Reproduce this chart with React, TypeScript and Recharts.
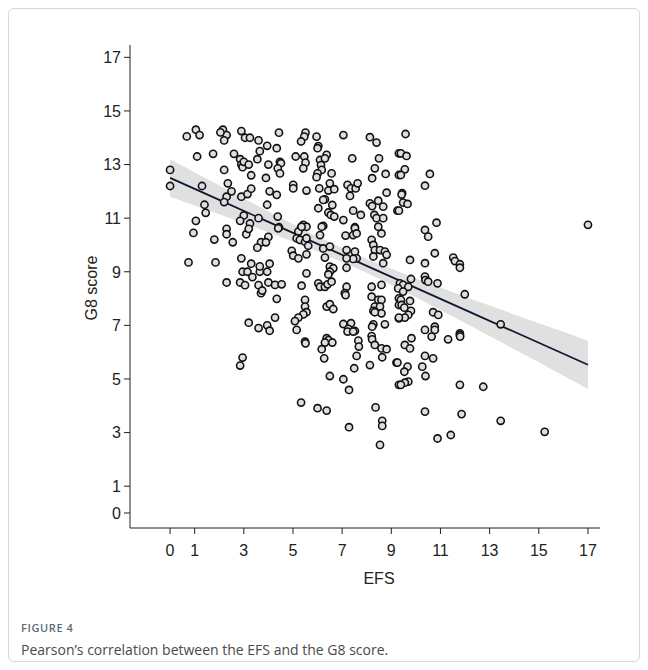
import { Area, ComposedChart, Label, Line, Scatter, XAxis, YAxis } from "recharts"

// EFS (x) vs G8 score (y)
const leftPoints: [number, number][] = [
  [0.0, 12.8], [0.0, 12.2], [0.75, 9.35], [0.68, 14.05],
  [1.05, 14.3], [1.2, 14.1], [1.1, 13.3], [1.3, 12.2], [1.4, 11.5], [1.05, 10.9], [0.95, 10.45],
  [1.45, 11.2], [1.8, 10.2], [1.85, 9.35], [1.75, 13.4],
  [2.15, 14.3], [2.3, 14.1], [2.2, 13.9], [2.2, 12.8], [2.35, 12.3], [2.3, 11.8], [2.2, 11.6],
  [2.3, 10.6], [2.3, 10.4], [2.3, 8.6], [2.05, 14.2], [2.5, 12.0], [2.55, 10.1], [2.6, 13.4],
  [2.85, 13.2], [2.9, 13.0], [2.95, 12.9], [3.0, 13.1], [2.9, 14.25], [3.05, 14.0], [2.9, 11.8],
  [3.0, 11.1], [2.85, 10.9], [3.1, 10.4], [2.9, 9.5], [2.95, 9.0], [2.85, 8.6], [2.85, 5.5],
  [2.95, 5.8], [3.05, 8.5],
  [3.25, 14.0], [3.2, 13.0], [3.3, 12.6], [3.15, 11.9], [3.3, 12.1], [3.25, 10.8], [3.2, 10.6],
  [3.3, 9.3], [3.15, 9.0], [3.2, 7.1], [3.35, 8.8],
  [3.6, 13.9], [3.65, 13.5], [3.55, 13.2], [3.6, 11.0], [3.7, 10.1], [3.55, 9.9], [3.65, 9.0],
  [3.6, 8.5], [3.7, 8.2], [3.6, 6.9], [3.75, 8.3], [3.65, 9.2],
  [3.95, 13.7], [4.0, 13.0], [3.9, 12.5], [4.05, 12.0], [3.95, 11.5], [4.0, 10.3], [3.9, 10.1],
  [4.05, 9.3], [3.95, 9.0], [4.0, 8.6], [3.95, 7.0], [4.05, 6.8],
]

const midUpperPoints: [number, number][] = [
  [4.43, 14.19], [4.34, 13.61], [4.47, 13.1], [4.51, 13.05], [4.38, 12.86], [4.47, 12.67],
  [4.34, 11.87], [4.38, 11.06], [4.43, 10.66], [5.51, 14.19], [5.46, 14.04], [5.33, 13.86],
  [5.96, 14.04], [6.03, 13.69], [6.0, 13.61], [5.11, 13.3], [5.46, 13.3], [5.51, 13.07],
  [5.42, 12.86], [6.1, 13.17], [6.37, 13.36], [6.3, 13.23], [6.14, 12.98], [6.17, 12.8],
  [6.0, 12.67], [5.96, 12.53], [6.57, 12.67], [7.05, 14.1], [7.41, 13.23], [8.13, 14.02],
  [8.4, 13.82], [8.5, 13.23], [8.33, 12.86], [8.77, 12.65], [8.22, 12.49], [5.01, 12.24],
  [5.01, 12.11], [5.55, 12.03], [6.07, 12.11], [6.5, 12.3], [6.44, 12.03], [6.68, 12.08],
  [7.22, 12.24], [7.36, 12.11], [7.32, 11.83], [7.55, 12.11], [7.63, 12.3], [6.3, 11.7],
  [6.23, 11.68], [6.03, 11.37], [6.6, 11.49], [6.44, 11.21], [6.54, 11.12], [6.68, 11.06],
  [7.05, 10.93], [7.45, 11.28], [7.76, 11.12], [8.13, 11.55], [8.22, 11.45], [8.47, 11.65],
  [8.67, 11.43], [8.31, 11.12], [8.4, 11.0], [8.67, 11.0], [8.81, 11.95], [9.31, 13.42],
  [9.31, 12.61], [9.25, 11.28], [5.42, 10.75], [5.55, 10.68], [5.33, 10.66], [6.23, 10.71],
  [7.52, 10.66],
]

const midLowerPoints: [number, number][] = [
  [4.4, 10.62], [5.22, 10.5], [5.35, 10.68], [5.15, 10.25], [5.28, 10.19], [5.49, 10.12],
  [5.55, 10.25], [5.62, 9.97], [4.95, 9.78], [5.01, 9.6], [5.22, 9.5], [5.55, 9.65],
  [6.17, 10.68], [6.1, 10.37], [6.23, 9.87], [6.5, 9.94], [6.3, 9.53], [7.14, 10.35],
  [7.45, 10.37], [7.52, 10.62], [7.59, 10.43], [7.18, 9.81], [7.52, 9.75], [7.59, 9.5],
  [7.45, 9.48], [7.18, 9.5], [8.2, 10.19], [8.27, 10.0], [8.33, 9.81], [8.54, 9.81],
  [8.74, 9.75], [8.81, 9.63], [8.27, 9.57], [8.6, 10.43], [8.47, 10.68], [8.67, 9.32],
  [7.18, 9.15], [6.5, 9.19], [6.64, 9.13], [6.5, 9.0], [6.44, 8.9], [5.55, 8.94],
  [7.18, 8.44], [7.11, 8.2], [7.14, 8.13], [6.03, 8.57], [6.1, 8.44], [6.3, 8.44],
  [6.41, 8.53], [6.57, 8.63], [5.35, 8.48], [4.27, 8.51], [4.54, 8.53], [4.34, 7.99],
  [5.49, 7.95], [5.49, 7.7], [5.55, 7.49], [5.42, 7.41], [5.22, 7.29], [5.08, 7.16],
  [5.15, 6.83], [4.27, 7.29], [6.37, 7.7], [6.5, 7.79], [6.64, 7.61], [7.05, 7.05],
  [7.36, 7.08], [7.25, 6.87], [7.52, 6.79], [8.2, 8.44], [8.6, 8.51], [8.2, 8.07],
  [8.47, 7.95], [8.6, 7.95], [8.33, 7.7], [8.54, 7.7], [8.27, 7.54], [8.6, 7.45],
  [8.33, 7.49], [8.74, 7.04], [8.27, 7.04], [8.22, 6.95], [9.31, 8.01], [9.31, 7.76],
  [9.31, 7.26], [9.35, 8.57],
]

const midBottomPoints: [number, number][] = [
  [5.49, 6.39], [5.51, 6.33], [6.37, 6.52], [6.44, 6.45], [6.6, 6.36], [6.3, 6.36],
  [6.17, 6.11], [6.27, 5.77], [7.22, 6.77], [7.45, 6.77], [7.66, 6.43], [7.68, 6.21],
  [7.59, 5.86], [7.49, 5.4], [8.13, 5.52], [8.2, 6.6], [8.22, 6.48], [8.33, 6.27],
  [8.6, 6.14], [8.81, 6.11], [8.63, 5.81], [9.21, 5.61], [9.31, 4.78], [6.5, 5.11],
  [7.05, 4.99], [7.28, 4.59], [5.33, 4.12], [6.0, 3.91], [6.37, 3.82], [7.28, 3.2],
  [8.36, 3.94], [8.63, 3.44], [8.63, 3.25], [8.54, 2.54],
]

const rightPoints: [number, number][] = [
  [9.58, 14.14], [9.39, 13.42], [9.62, 13.32], [9.55, 12.82], [9.39, 12.61], [10.57, 12.65],
  [10.37, 12.21], [9.44, 11.93], [9.42, 11.88], [9.48, 11.58], [9.66, 11.53], [9.31, 11.28],
  [10.84, 10.83], [10.37, 10.56], [10.5, 10.31], [10.77, 9.69], [9.76, 9.44], [10.37, 9.32],
  [11.52, 9.53], [11.59, 9.4], [11.79, 9.28], [11.79, 9.15], [9.8, 8.73], [10.37, 8.82],
  [10.39, 8.69], [10.5, 8.63], [10.88, 8.57], [9.48, 8.51], [9.69, 8.44], [9.28, 8.38],
  [9.48, 8.26], [9.39, 7.95], [9.42, 7.76], [9.53, 7.66], [9.76, 7.91], [11.99, 8.16],
  [9.8, 7.54], [9.69, 7.39], [9.55, 7.29], [9.31, 7.29], [10.7, 7.49], [10.91, 7.39],
  [10.77, 6.95], [10.37, 6.83], [11.79, 6.7], [13.45, 7.04], [10.77, 6.83], [9.82, 6.52],
  [9.55, 6.27], [9.76, 6.14], [10.64, 6.58], [11.31, 6.48], [11.79, 6.64], [11.8, 6.58],
  [10.37, 5.86], [10.7, 5.77], [9.25, 5.61], [9.66, 5.46], [9.53, 5.27], [10.26, 5.46],
  [10.39, 5.11], [9.69, 4.9], [9.55, 4.86], [9.39, 4.78], [11.79, 4.78], [12.74, 4.71],
  [10.37, 3.78], [11.86, 3.69], [13.45, 3.44], [10.88, 2.78], [11.42, 2.91],
  [15.24, 3.03], [17.0, 10.75],
]

// fitted line and its 95% band
const bandX = [0, 2, 4, 6, 8, 10, 12, 14, 15, 16, 17]
const bandFit = [12.5, 11.68, 10.86, 10.04, 9.22, 8.4, 7.58, 6.76, 6.35, 5.94, 5.53]
const bandLow = [11.8, 11.15, 10.47, 9.76, 8.96, 8.05, 7.09, 6.11, 5.62, 5.12, 4.63]
const bandHigh = [13.2, 12.22, 11.25, 10.31, 9.48, 8.75, 8.07, 7.41, 7.08, 6.76, 6.43]

const xTicks = [0, 1, 3, 5, 7, 9, 11, 13, 15, 17]
const yTicks = [0, 1, 3, 5, 7, 9, 11, 13, 15, 17]

const points = [
  ...leftPoints,
  ...midUpperPoints,
  ...midLowerPoints,
  ...midBottomPoints,
  ...rightPoints,
].map(([x, y]) => ({ x, y }))

const band = bandX.map((x, i) => ({ x, fit: bandFit[i], lo: bandLow[i], hi: bandHigh[i] }))

const FONT = "'Liberation Sans', Arial, sans-serif"

function XTick(props: any) {
  return (
    <text x={props.x} y={props.y} dy="0.75em" textAnchor="middle" fontSize={16} fontFamily={FONT} fill="#222">
      {props.payload.value}
    </text>
  )
}

function YTick(props: any) {
  return (
    <text x={props.x} y={props.y} dy="0.36em" textAnchor="end" fontSize={16} fontFamily={FONT} fill="#222">
      {props.payload.value}
    </text>
  )
}

function Dot(props: any) {
  return <circle cx={props.cx} cy={props.cy} r={3.6} fill="#dedede" stroke="#111" strokeWidth={1.6} />
}

export default function App() {
  return (
    <div style={{ position: "relative", width: 632, height: 654 }}>
      <div
        style={{
          position: "absolute",
          inset: 0,
          border: "1px solid #d6d6d6",
          borderRadius: 6,
          boxSizing: "border-box",
        }}
      />
      <div style={{ position: "absolute", left: 0, top: 0, fontFamily: FONT }}>
        <ComposedChart
          width={632}
          height={600}
          data={band}
          margin={{ top: 37, right: 40, left: 0, bottom: 0 }}
        >
          <XAxis
            type="number"
            dataKey="x"
            domain={[-1.63, 17.49]}
            ticks={xTicks}
            allowDataOverflow
            interval={0}
            tickSize={6}
            tickMargin={10}
            axisLine={{ stroke: "#222" }}
            tickLine={{ stroke: "#222" }}
            tick={XTick}
            height={80}
          >
            <Label
              content={() => (
                <text x={371} y={576} textAnchor="middle" fontSize={16} fontFamily={FONT} fill="#222">
                  EFS
                </text>
              )}
            />
          </XAxis>
          <YAxis
            type="number"
            dataKey="y"
            domain={[-0.56, 17.46]}
            ticks={yTicks}
            allowDataOverflow
            interval={0}
            tickSize={6}
            tickMargin={3}
            axisLine={{ stroke: "#222" }}
            tickLine={{ stroke: "#222" }}
            tick={YTick}
            width={122}
          >
            <Label
              content={() => (
                <text
                  x={89}
                  y={280}
                  textAnchor="middle"
                  transform="rotate(-90 89 280)"
                  fontSize={16}
                  fontFamily={FONT}
                  fill="#222"
                >
                  G8 score
                </text>
              )}
            />
          </YAxis>
          <Area
            dataKey={(d: any) => [d.lo, d.hi]}
            type="linear"
            fill="#e0e0e0"
            fillOpacity={1}
            stroke="none"
            isAnimationActive={false}
          />
          <Scatter data={points} shape={Dot} isAnimationActive={false} />
          <Line
            dataKey="fit"
            type="linear"
            stroke="#0e1a33"
            strokeWidth={1.8}
            dot={false}
            activeDot={false}
            isAnimationActive={false}
          />
        </ComposedChart>
      </div>
      <div
        style={{
          position: "absolute",
          left: 13,
          top: 612,
          fontFamily: "'Open Sans', sans-serif",
          fontSize: 11,
          fontWeight: 600,
          letterSpacing: 0.6,
          color: "#5d6a78",
        }}
      >
        FIGURE 4
      </div>
      <div
        style={{
          position: "absolute",
          left: 13,
          top: 632,
          fontFamily: "'Open Sans', sans-serif",
          fontSize: 14,
          color: "#4a4a4a",
        }}
      >
        Pearson’s correlation between the EFS and the G8 score.
      </div>
    </div>
  )
}
